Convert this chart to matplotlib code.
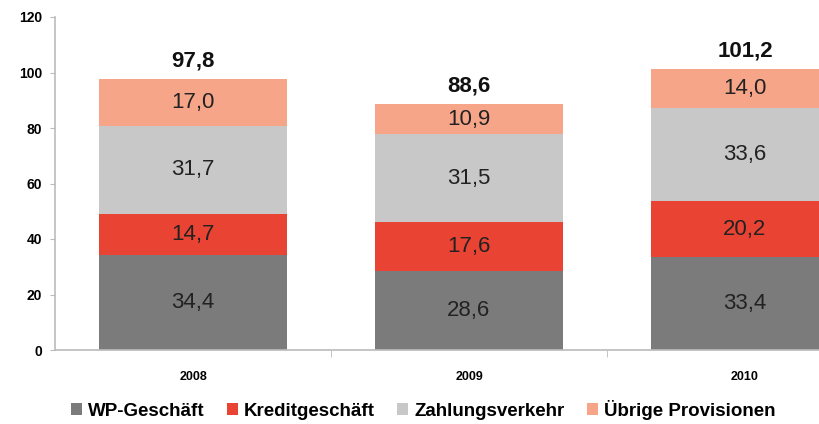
import matplotlib
matplotlib.use("Agg")
import matplotlib.pyplot as plt
import numpy as np

categories = ["2008", "2009", "2010"]
series_names = ["WP-Geschäft", "Kreditgeschäft", "Zahlungsverkehr", "Übrige Provisionen"]
wp = [34.4, 28.6, 33.4]
kredit = [14.7, 17.6, 20.2]
zahlung = [31.7, 31.5, 33.6]
uebrige = [17.0, 10.9, 14.0]
totals = ["97,8", "88,6", "101,2"]
colors = ["#7b7b7b", "#e94333", "#c8c8c8", "#f7a589"]

plt.rcParams['font.family'] = ['Liberation Sans', 'DejaVu Sans']

fig = plt.figure(figsize=(8.19, 4.24), dpi=100)
W, H = 819, 424
ax_left, ax_right = 55, 55 + 828
ax_bottom, ax_top = 350, 17
ax = fig.add_axes([ax_left / W, 1 - ax_bottom / H, (ax_right - ax_left) / W, (ax_bottom - ax_top) / H])

x = np.arange(len(categories))
bottom = np.zeros(len(categories))
series = [wp, kredit, zahlung, uebrige]
for vals, name, c in zip(series, series_names, colors):
    ax.bar(x, vals, width=0.68, bottom=bottom, color=c, label=name, linewidth=0)
    for xi, b, v in zip(x, bottom, vals):
        ax.text(xi, b + v / 2, f"{v:.1f}".replace(".", ","), ha="center", va="center",
                fontsize=16, color="#222222")
    bottom += np.array(vals)

for xi, b, t in zip(x, bottom, totals):
    ax.text(xi, b + 2.6, t, ha="center", va="bottom", fontsize=16, fontweight="bold", color="#111111")

ax.set_xlim(-0.5, 2.5)
ax.set_ylim(0, 120)
ax.set_yticks(range(0, 121, 20))
ax.tick_params(axis="y", direction="out", length=3.6, color="#bbbbbb", labelsize=10, pad=5.8)
for lab in ax.get_yticklabels():
    lab.set_fontweight("bold")
ax.set_xticks([0.5, 1.5], minor=True)
ax.set_xticks(x)
ax.set_xticklabels(categories, fontsize=9, fontweight="bold")
ax.tick_params(axis="x", which="major", length=0, pad=15)
ax.tick_params(axis="x", which="minor", length=5, color="#bbbbbb", direction="out")
for s in ["top", "right"]:
    ax.spines[s].set_visible(False)
for s in ["left", "bottom"]:
    ax.spines[s].set_color("#bbbbbb")
    ax.spines[s].set_linewidth(1.2)

handles, labels = ax.get_legend_handles_labels()
leg = fig.legend(handles, labels, loc="center", bbox_to_anchor=(423 / W, 1 - 410 / H), ncol=4,
                 frameon=False, handlelength=0.6, handleheight=0.6, handletextpad=0.3,
                 columnspacing=1.2, prop={"size": 13.5, "weight": "bold"})

fig.savefig("out.png", dpi=100)
